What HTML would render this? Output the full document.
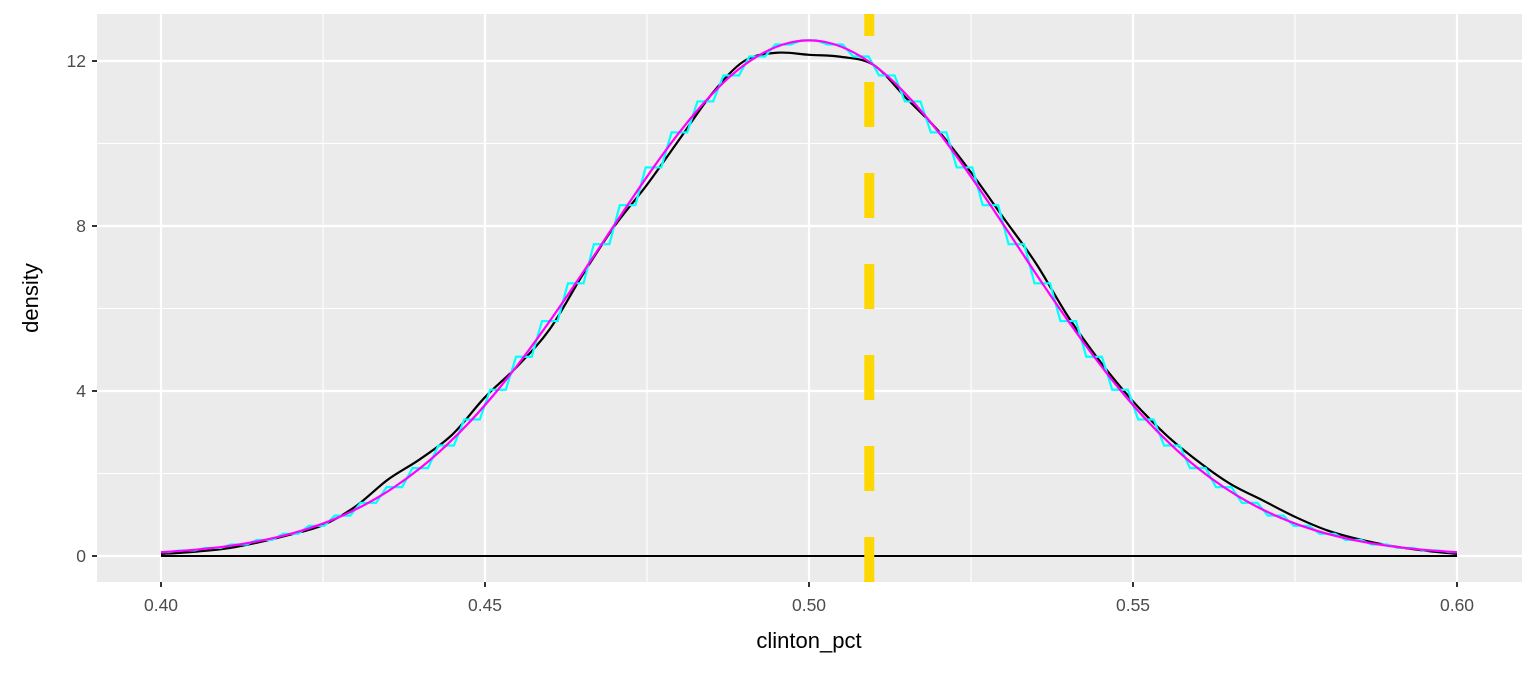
<!DOCTYPE html>
<html><head><meta charset="utf-8"><style>
body{margin:0;background:#fff;}
svg text{font-family:"Liberation Sans",sans-serif;}
</style></head><body>
<svg id="chart" width="1536" height="672" xmlns="http://www.w3.org/2000/svg">
<rect x="97" y="14" width="1425" height="568" fill="#ebebeb"/>
<g id="grid"></g><g id="marks"></g><g id="axes"></g>
<text x="809" y="648" font-size="22" text-anchor="middle" fill="#000">clinton_pct</text>
<text transform="translate(38,298) rotate(-90)" font-size="22" text-anchor="middle" fill="#000">density</text>
</svg>
<script>
const xTicks=[0.40,0.45,0.50,0.55,0.60];
const xTickLabels=["0.40","0.45","0.50","0.55","0.60"];
const yTicks=[0,4,8,12];
const yTickLabels=["0","4","8","12"];
const normalX=[0.400,0.404,0.408,0.412,0.416,0.420,0.424,0.428,0.432,0.436,0.440,0.444,0.448,0.452,0.456,0.460,0.464,0.468,0.472,0.476,0.480,0.484,0.488,0.492,0.496,0.500,0.504,0.508,0.512,0.516,0.520,0.524,0.528,0.532,0.536,0.540,0.544,0.548,0.552,0.556,0.560,0.564,0.568,0.572,0.576,0.580,0.584,0.588,0.592,0.596,0.600];
const normalY=[0.092,0.135,0.195,0.278,0.390,0.538,0.732,0.979,1.289,1.670,2.131,2.678,3.310,4.030,4.830,5.696,6.611,7.559,8.505,9.420,10.27,11.02,11.65,12.11,12.40,12.5,12.40,12.11,11.65,11.02,10.27,9.420,8.505,7.559,6.611,5.696,4.830,4.030,3.310,2.678,2.131,1.670,1.289,0.979,0.732,0.538,0.390,0.278,0.195,0.135,0.092];
const kdeX=[0.400,0.405,0.410,0.415,0.420,0.425,0.430,0.435,0.440,0.445,0.450,0.455,0.460,0.465,0.470,0.475,0.480,0.485,0.490,0.495,0.500,0.505,0.510,0.515,0.520,0.525,0.530,0.535,0.540,0.545,0.550,0.555,0.560,0.565,0.570,0.575,0.580,0.585,0.590,0.595,0.600];
const kdeY=[0.05,0.1,0.18,0.33,0.52,0.75,1.2,1.85,2.35,2.95,3.85,4.6,5.5,6.8,8.0,9.0,10.1,11.2,12.0,12.2,12.15,12.1,11.9,11.1,10.3,9.3,8.2,7.1,5.8,4.7,3.75,2.95,2.3,1.75,1.35,0.95,0.62,0.4,0.24,0.13,0.05];
const vlineX=[0.5093];
const NS="http://www.w3.org/2000/svg";
const sx=v=>161+(v-0.40)*6480;
const sy=v=>556-v*41.25;
function mk(tag,attrs,parent){const e=document.createElementNS(NS,tag);for(const k in attrs)e.setAttribute(k,attrs[k]);parent.appendChild(e);return e;}
const grid=document.getElementById('grid'),marks=document.getElementById('marks'),axes=document.getElementById('axes');
for(let i=0;i<xTicks.length-1;i++){const v=(xTicks[i]+xTicks[i+1])/2;const l=mk('line',{x1:sx(v),x2:sx(v),y1:14,y2:582,stroke:'#fff','stroke-width':1.1},grid);

}
for(let i=0;i<yTicks.length-1;i++){const v=(yTicks[i]+yTicks[i+1])/2;const l=mk('line',{x1:97,x2:1522,y1:sy(v),y2:sy(v),stroke:'#fff','stroke-width':1.1},grid);

}
xTicks.forEach((v,i)=>{const l=mk('line',{x1:sx(v),x2:sx(v),y1:14,y2:582,stroke:'#fff','stroke-width':2.2},grid);


const t=mk('line',{x1:sx(v),x2:sx(v),y1:582,y2:587,stroke:'#333','stroke-width':2},axes);


const tx=mk('text',{x:sx(v),y:611,'font-size':17.5,'text-anchor':'middle',fill:'#4d4d4d'},axes);tx.textContent=xTickLabels[i];

});
yTicks.forEach((v,i)=>{const l=mk('line',{x1:97,x2:1522,y1:sy(v),y2:sy(v),stroke:'#fff','stroke-width':2.2},grid);


const t=mk('line',{x1:92,x2:97,y1:sy(v),y2:sy(v),stroke:'#333','stroke-width':2},axes);


const tx=mk('text',{x:86,y:sy(v)+6,'font-size':17.5,'text-anchor':'end',fill:'#4d4d4d'},axes);tx.textContent=yTickLabels[i];

});
const base=mk('line',{x1:sx(kdeX[0]),x2:sx(kdeX[kdeX.length-1]),y1:sy(0),y2:sy(0),stroke:'#000','stroke-width':2},marks);


function cr(xs,ys){const p=xs.map((x,i)=>[sx(x),sy(ys[i])]);let d='M'+p[0][0]+','+p[0][1];
for(let i=0;i<p.length-1;i++){const p0=p[Math.max(0,i-1)],p1=p[i],p2=p[i+1],p3=p[Math.min(p.length-1,i+2)];
d+=` C${p1[0]+(p2[0]-p0[0])/6},${p1[1]+(p2[1]-p0[1])/6} ${p2[0]-(p3[0]-p1[0])/6},${p2[1]-(p3[1]-p1[1])/6} ${p2[0]},${p2[1]}`;}return d;}
const kde=mk('path',{d:cr(kdeX,kdeY),fill:'none',stroke:'#000','stroke-width':2.2},marks);


let sd='';const h=0.0012;
normalX.forEach((x,i)=>{const a=Math.max(0.4,x-h),b=Math.min(0.6,x+h);sd+=(i?'L':'M')+sx(a)+','+sy(normalY[i])+' L'+sx(b)+','+sy(normalY[i])+' ';});
const step=mk('path',{d:sd,fill:'none',stroke:'#00ffff','stroke-width':2.2},marks);


const norm=mk('path',{d:cr(normalX,normalY),fill:'none',stroke:'#ff00ff','stroke-width':2.2},marks);


vlineX.forEach(v=>{const l=mk('line',{x1:sx(v),x2:sx(v),y1:582,y2:14,stroke:'#ffd700','stroke-width':10,'stroke-dasharray':'45 46'},marks);

});
</script>
</body></html>
